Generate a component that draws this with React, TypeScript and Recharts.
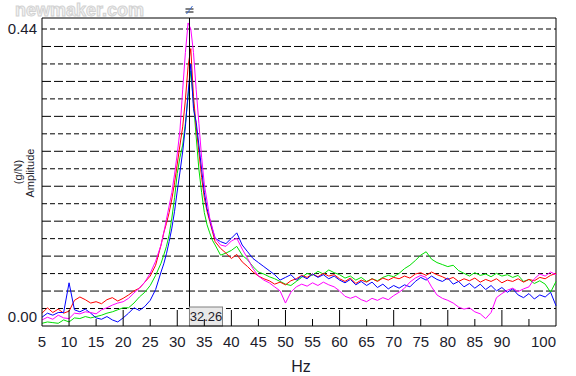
import { LineChart, Line, XAxis, YAxis, ReferenceLine } from "recharts";

// frequency axis (Hz): 1 Hz steps, 0.5 Hz steps around the resonance
const hz = [
  5, 6, 7, 8, 9, 10, 11, 12, 13, 14, 15, 16, 17, 18, 19, 20, 21, 22, 23, 24, 25, 26, 27,
  27.5, 28, 28.5, 29, 29.5, 30, 30.5, 31, 31.5, 32, 32.5, 33, 33.5, 34, 34.5, 35, 35.5, 36, 36.5, 37,
  38, 39, 40, 41, 42, 43, 44, 45, 46, 47, 48, 49, 50, 51, 52, 53, 54, 55, 56, 57, 58, 59, 60,
  61, 62, 63, 64, 65, 66, 67, 68, 69, 70, 71, 72, 73, 74, 75, 76, 77, 78, 79, 80,
  81, 82, 83, 84, 85, 86, 87, 88, 89, 90, 91, 92, 93, 94, 95, 96, 97, 98, 99, 100,
];

const red = [
  0.019, 0.027, 0.020, 0.025, 0.019, 0.022, 0.038, 0.043, 0.039, 0.034, 0.036, 0.033, 0.039, 0.042, 0.037, 0.041, 0.046, 0.052, 0.056, 0.065, 0.074, 0.09, 0.12,
  0.138, 0.152, 0.168, 0.188, 0.212, 0.24, 0.268, 0.295, 0.335, 0.385, 0.411, 0.34, 0.295, 0.258, 0.22, 0.19, 0.17, 0.155, 0.14, 0.125,
  0.115, 0.108, 0.1, 0.106, 0.095, 0.088, 0.08, 0.074, 0.07, 0.067, 0.062, 0.065, 0.061, 0.067, 0.07, 0.075, 0.072, 0.077, 0.073, 0.078, 0.074, 0.076, 0.07,
  0.066, 0.071, 0.063, 0.068, 0.065, 0.07, 0.066, 0.071, 0.068, 0.072, 0.07, 0.074, 0.071, 0.077, 0.079, 0.075, 0.08, 0.076, 0.073, 0.069,
  0.072, 0.066, 0.07, 0.067, 0.071, 0.065, 0.069, 0.066, 0.07, 0.064, 0.068, 0.066, 0.07, 0.065, 0.069, 0.067, 0.072, 0.07, 0.075, 0.078,
];

const green = [
  0.004, 0.006, 0.005, 0.004, 0.009, 0.006, 0.012, 0.011, 0.014, 0.012, 0.014, 0.016, 0.019, 0.021, 0.024, 0.027, 0.027, 0.034, 0.043, 0.05, 0.06, 0.075, 0.093,
  0.105, 0.118, 0.135, 0.16, 0.19, 0.226, 0.25, 0.268, 0.3, 0.34, 0.378, 0.33, 0.28, 0.232, 0.198, 0.168, 0.15, 0.138, 0.127, 0.12,
  0.105, 0.108, 0.112, 0.118, 0.105, 0.098, 0.088, 0.08, 0.077, 0.073, 0.07, 0.066, 0.062, 0.06, 0.066, 0.072, 0.078, 0.075, 0.081, 0.077, 0.083, 0.079, 0.076,
  0.071, 0.074, 0.068, 0.072, 0.066, 0.07, 0.067, 0.072, 0.075, 0.073, 0.078, 0.085, 0.09, 0.097, 0.105, 0.11, 0.099, 0.094, 0.091, 0.088,
  0.09, 0.082, 0.078, 0.074, 0.079, 0.075, 0.077, 0.073, 0.078, 0.074, 0.076, 0.072, 0.075, 0.066, 0.069, 0.063, 0.067, 0.062, 0.05, 0.066,
];

const blue = [
  0.013, 0.019, 0.016, 0.02, 0.02, 0.064, 0.024, 0.021, 0.025, 0.019, 0.012, 0.01, 0.014, 0.009, 0.006, 0.012, 0.019, 0.027, 0.023, 0.029, 0.038, 0.054, 0.08,
  0.092, 0.107, 0.125, 0.145, 0.17, 0.2, 0.228, 0.258, 0.295, 0.345, 0.388, 0.322, 0.302, 0.268, 0.232, 0.198, 0.174, 0.158, 0.143, 0.13,
  0.125, 0.122, 0.13, 0.138, 0.12, 0.11, 0.1, 0.094, 0.088, 0.082, 0.076, 0.068, 0.072, 0.076, 0.068, 0.074, 0.07, 0.077, 0.072, 0.076, 0.07, 0.074, 0.068,
  0.064, 0.069, 0.061, 0.066, 0.06, 0.065, 0.057, 0.062, 0.055, 0.06, 0.056, 0.061, 0.058, 0.066, 0.072, 0.068, 0.074, 0.069, 0.066, 0.071,
  0.062, 0.066, 0.058, 0.063, 0.056, 0.062, 0.054, 0.06, 0.052, 0.057, 0.05, 0.055, 0.046, 0.042, 0.048, 0.04, 0.046, 0.043, 0.05, 0.03,
];

const magenta = [
  0.009, 0.013, 0.01, 0.016, 0.012, 0.011, 0.019, 0.018, 0.021, 0.02, 0.018, 0.024, 0.027, 0.031, 0.034, 0.036, 0.041, 0.049, 0.056, 0.065, 0.078, 0.096, 0.12,
  0.138, 0.158, 0.178, 0.198, 0.225, 0.255, 0.29, 0.35, 0.405, 0.449, 0.44, 0.405, 0.35, 0.3, 0.25, 0.21, 0.185, 0.16, 0.145, 0.13,
  0.12, 0.118, 0.126, 0.13, 0.114, 0.1, 0.085, 0.074, 0.068, 0.064, 0.058, 0.052, 0.034, 0.05, 0.058, 0.062, 0.059, 0.064, 0.06, 0.065, 0.061, 0.058, 0.052,
  0.044, 0.041, 0.044, 0.039, 0.036, 0.041, 0.038, 0.042, 0.039, 0.045, 0.05, 0.056, 0.065, 0.071, 0.075, 0.072, 0.058, 0.046, 0.041, 0.038,
  0.034, 0.028, 0.025, 0.027, 0.021, 0.018, 0.011, 0.02, 0.042, 0.048, 0.053, 0.056, 0.051, 0.055, 0.058, 0.07, 0.077, 0.074, 0.08, 0.076,
];

const xTicks = [5, 10, 15, 20, 25, 30, 35, 40, 45, 50, 55, 60, 65, 70, 75, 80, 85, 90, 95, 100];
const yTicks = [0, 0.44];
const cursorHz = 32.26;
const yTop = 0.4563;
const gridSteps = 17;

const data = hz.map((f, i) => ({
  hz: f,
  red: red[i],
  green: green[i],
  blue: blue[i],
  magenta: magenta[i],
}));

const FONT = "'Liberation Sans', Arial, sans-serif";
const TEXT = "#1c1c2c";

const XTick = (props: any) => {
  const { x, y, payload } = props;
  const v = payload.value;
  const last = v === 100;
  return (
    <g>
      {v !== 5 && !last && (
        <line x1={x} x2={x} y1={y} y2={y - (v % 10 === 0 ? 16 : 7)} stroke="#000" />
      )}
      {v !== 95 && (
        <text x={x} y={y + 21} textAnchor={last ? "end" : "middle"} fontSize={15} fontFamily={FONT} fill={TEXT}>
          {v}
        </text>
      )}
    </g>
  );
};

const YTick = (props: any) => {
  const { x, y, payload } = props;
  const v = payload.value;
  return (
    <text x={x - 5} y={v === 0 ? y - 4 : y + 5} textAnchor="end" fontSize={15} fontFamily={FONT} fill={TEXT}>
      {v.toFixed(2)}
    </text>
  );
};

const CursorLabel = (props: any) => {
  const vb = props.viewBox || {};
  const x = vb.x;
  const top = vb.y;
  const bottom = vb.y + vb.height;
  return (
    <g>
      <line x1={x - 4} x2={x + 4} y1={top - 9} y2={top - 9} stroke="#000" />
      <line x1={x - 4} x2={x + 4} y1={top - 6} y2={top - 6} stroke="#000" />
      <line x1={x - 3} x2={x + 3} y1={top - 4} y2={top - 12} stroke="#3a6ad0" />
      <rect x={x} y={bottom - 19} width={33} height={19} fill="#e8e8e8" stroke="#808080" />
      <text x={x + 16.5} y={bottom - 5} textAnchor="middle" fontSize={13} fontFamily={FONT} fill={TEXT}>
        {cursorHz.toFixed(2)}
      </text>
    </g>
  );
};

export default function App() {
  const levels = Array.from({ length: gridSteps }, (_, i) => (0.44 * (i + 1)) / gridSteps);
  return (
    <div style={{ position: "absolute", left: 0, top: 0, width: 576, height: 376, background: "#fff" }}>
      <LineChart width={576} height={376} data={data} margin={{ top: 18, right: 20, bottom: 0, left: 0 }}>
        <XAxis
          dataKey="hz"
          type="number"
          domain={[5, 100]}
          ticks={xTicks}
          interval={0}
          height={50}
          tickSize={0}
          tickMargin={0}
          tickLine={false}
          axisLine={{ stroke: "#000" }}
          tick={<XTick />}
        />
        <YAxis
          type="number"
          domain={[0, yTop]}
          ticks={yTicks}
          width={42}
          tickSize={0}
          tickMargin={0}
          tickLine={false}
          axisLine={{ stroke: "#000" }}
          tick={<YTick />}
          allowDataOverflow
        />
        {levels.map((v, i) => (
          <ReferenceLine
            key={i}
            y={v}
            stroke="#000"
            strokeDasharray={(i + 1) % 2 === 0 ? "9 3" : "5 3"}
          />
        ))}
        <ReferenceLine y={yTop} stroke="#000" />
        <ReferenceLine x={100} stroke="#000" />
        <Line type="linear" dataKey="green" stroke="#00e000" dot={false} strokeWidth={1} isAnimationActive={false} />
        <Line type="linear" dataKey="red" stroke="#ff0000" dot={false} strokeWidth={1} isAnimationActive={false} />
        <Line type="linear" dataKey="blue" stroke="#0000ff" dot={false} strokeWidth={1} isAnimationActive={false} />
        <Line type="linear" dataKey="magenta" stroke="#ff00ff" dot={false} strokeWidth={1} isAnimationActive={false} />
        <ReferenceLine x={cursorHz} stroke="#000" label={<CursorLabel />} />
      </LineChart>
      <svg width={576} height={376} style={{ position: "absolute", left: 0, top: 0, pointerEvents: "none" }}>
        <text
          x={15}
          y={16}
          fontSize={18}
          fontWeight="bold"
          fontFamily={FONT}
          fill="#f0f0f0"
          stroke="#c8c8c8"
          strokeWidth={1}
          opacity={0.8}
        >
          newmaker.com
        </text>
        <text x={18} y={172} transform="rotate(-90 18 172)" textAnchor="middle" dominantBaseline="central" fontSize={11} fontFamily={FONT} fill={TEXT}>
          (g/N)
        </text>
        <text x={30} y={173} transform="rotate(-90 30 173)" textAnchor="middle" dominantBaseline="central" fontSize={11} fontFamily={FONT} fill={TEXT}>
          Amplitude
        </text>
        <text x={301} y={372} textAnchor="middle" fontSize={16} fontFamily={FONT} fill={TEXT}>
          Hz
        </text>
      </svg>
    </div>
  );
}
